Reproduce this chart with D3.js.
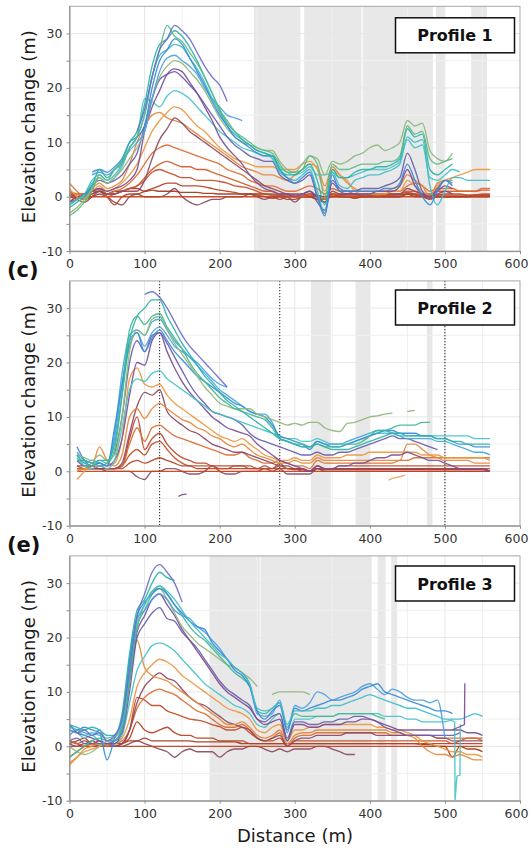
<!DOCTYPE html>
<html><head><meta charset="utf-8">
<script src="https://cdn.jsdelivr.net/npm/d3@7"></script>
<style>
html,body{margin:0;padding:0;background:#fff;}
svg{display:block;font-family:"DejaVu Sans",sans-serif;}
</style></head><body>
<svg id="chart" width="530" height="852"></svg>
<script>
const _ = null;
// ---------------- DATA ----------------
const distanceTicks = [0,100,200,300,400,500,600];
const elevationTicks = [-10,-5,0,5,10,15,20,25,30];
const profileNames = ["Profile 1","Profile 2","Profile 3"];
const panelLetters = [null,"(c)","(e)"];

// Profile 1
const P1_X = [0,10,20,30,40,50,60,70,80,90, 100,110,120,130,140,150,160,170,180,190, 200,210,220,230,240,250,260,270,280,290, 300,310,320,330,340,350,360,370,380,390, 400,410,420,430,440,450,460,470,480,490, 500,510,520,530,540,550,560];
const P1_01 = [_,_,_,_,_,_,_,_,_,12, 16,22,27,29,31.5,30.5,29,26.5,24,22, 20.5,17.5,_,_,_,_,_,_,_,_, _,_,_,_,_,_,_,_,_,_, _,_,_,_,_,_,_,_,_,_, _,_,_,_,_,_,_];
const P1_02 = [-3.5,-2.5,-1,1,4,3,5,6,9,11, 15,22,27,31.5,29.5,28.5,26.5,24.5,22,19, 16,14,12,11,10,9,8.5,8,6,4.5, 4.5,5,7.5,6,0,6,5,5,5.5,6, 6,6,6.5,6.5,7.5,13,11.5,12,7,6, 6.5,7,_,_,_,_,_];
const P1_03 = [-2,-1,0,2,5,3.5,5,6.5,10,12, 17,24,28,29,30.5,29.5,27.5,25,22,19, 16,13.5,12,10.5,9.5,8.5,8,7.5,5,4, 4,5,6,3,-1.5,5,3.5,3.5,4.5,5, 5,5.5,5.5,6,7,12.5,11,11.5,5,4, 5,6,_,_,_,_,_];
const P1_04 = [_,_,_,4.5,5,4.5,5.5,7,10,11, 13,20,25,27,29,28,25.5,23,20.5,17.5, 15,13,11,10,9,8,7.5,7.5,5,3.5, 2.5,3.5,4.5,0,-3.5,4,1,1,1,1, 1,1,1.5,1.5,2.5,6,3,0,-1.5,1, 3,2.5,_,_,_,_,_];
const P1_05 = [-1.5,-0.5,0.5,3,4,3,4,6,9,11, 15,22,26,27,28,27.5,25.5,23.5,21,18, 15.5,13,11.5,10.5,9.5,8.5,8,7,4.5,3.5, 3,4,5,1,-3,4.5,2,1.5,3,3.5, 4,4,4.5,5,6,11,10,10.5,2,-1.5, 1,3.5,3.5,3,3,3,3];
const P1_06 = [_,_,_,4,4.5,4,5,6.5,8.5,10, 12,18,23,25.5,26,25,24,22.5,20,18, 16.5,15,14.5,14,_,_,_,_,_,_, _,_,_,_,_,_,_,_,_,_, _,_,_,_,_,_,_,_,_,_, _,_,_,_,_,_,_];
const P1_07 = [-3,-2,-0.5,1.5,3.5,2.5,3.5,5,7,9, 12,18,22,24,25,24.5,23,21.5,19.5,17, 14.5,12.5,11,10,9.5,9,8.5,8.5,6.5,5, 4.5,6,7.5,7,4,6.5,6,6.5,7.5,8, 9,9.5,8.5,9,10,14,13,13.5,8.5,7, 6.5,8,_,_,_,_,_];
const P1_08 = [-1,-0.5,0.5,1,1.5,1,1.5,2,3,5, 12,16.5,19.5,22.5,23.5,23,21,19,16.5,14, 11,9,7.5,6,4,2.5,1.5,1,0.5,0.5, 0,0.5,1,-1,-2.5,2.5,1,0.5,0.5,0.5, 0.5,1,1,1,2,5,2,0.5,0,1, 2,1.5,_,_,_,_,_];
const P1_09 = [_,_,0,2,3,2.5,3,4,6,8, 13,18,21.5,22.5,23,22,20.5,19,17,15, 13,11,9.5,8.5,7.5,7,6.5,6.5,4,3, 2.5,3,4,0,-3,3,1.5,1,1,1.5, 1.5,1.5,2,2.5,3.5,8,5,1,0,1.5, 3,2,_,_,_,_,_];
const P1_10 = [-1.5,-0.5,0.5,2.5,3.5,2.5,3.5,5.5,9,11, 18,17.5,16.5,18.5,19.5,19,18,16.5,15,13.5, 12,11,10,9,8.5,8,7.5,7.5,5.5,4.5, 4,4.5,5.5,4,4,4.5,3.5,3.5,4,4.5, 5,5,5,5.5,6.5,10.5,9,9.5,3.5,3, 4,5,4.5,_,_,_,_];
const P1_11 = [1.5,0,-0.5,1,2,1,1.5,2.5,4,6, 9,12,14,15.5,16.5,16,14.5,13,12,10.5, 9,8,7,6.5,6,5.5,5.5,5.5,5,5, 5,6,6.5,5,1,5,4,3,1,0.5, 0.5,0.5,0.5,1,1,3,2,1,0,2, 3,3.5,4,4.5,5,5,5];
const P1_12 = [0.5,0,-0.5,0.5,1,0.5,0.5,1,1,1, 3,7,10.5,12.5,14.5,13.5,12,11,10,9, 8,7,6,5,4,3,2,1.5,1,0.5, 0.5,0.5,1,0,-1,1,0.5,0.5,0.5,0.5, 0.5,0.5,0.5,0.5,0.5,1.5,1,0.5,0,0.5, 1,0.5,_,_,_,_,_];
const P1_13 = [1,0.5,0,1.5,2.5,1.5,2,3,6,10, 13,15,15.5,14.5,14,13.5,12.5,11.5,10.5,9.5, 8.5,7.5,6.5,5.5,5,4.5,4,4,3.5,3, 4,5,6,5.5,2,5.5,4,2.5,1.5,1, 1,1,1,1.5,2,4,3,2,0,2.5, 3,3,_,_,_,_,_];
const P1_14 = [2.5,1,0,1,1.5,0.5,1,1.5,2.5,4, 6,8,9,9.5,9,8.5,8,7.5,7,6.5, 6,5,4.5,4,3,2.5,2,2,1.5,1, 1,1.5,2,1.5,0.5,1.5,1,1,0.5,0.5, 0.5,0.5,0.5,1,1,2,2.5,2,1,1.5, 1.5,1.5,1,1,1,1.5,1.5];
const P1_15 = [0,0.5,0,0.5,1,0,0.5,1,1.5,2, 3.5,5,6,6.5,6,5.5,5.5,5,5,4.5, 4,3.5,3,2.5,2,1.5,1,1,0.5,0.5, 0,0,0.5,0,-0.5,0.5,0.5,0.5,0.5,0.5, 0.5,0.5,0.5,0.5,0.5,1,1,0.5,0.5,1, 1,1,1,1,1,1.2,1.2];
const P1_16 = [1,0.5,0.5,1,1,0.5,0.5,1,1.5,2, 3,4.5,5,4.5,4,3.5,3.5,3,3,3, 2.8,2.5,2,1.8,1.5,1,0.5,0.5,0.3,0, 0,0,0.3,0,-0.5,0.3,0.3,0,0,0.3, 0.3,0,0.3,0.3,0.5,0.8,0.5,0.3,0,0.3, 0.5,0.5,0.5,0.3,0.3,0.5,0.5];
const P1_17 = [0,-0.5,-1,0,1,0,-1.5,0,0.5,0.5, 1,1.5,2,2.5,2.5,2,2,2,1.8,1.5, 1.2,1,0.8,0.5,0.5,0.3,0,-0.3,0,-0.5, -0.5,0,0,-0.5,-0.5,0,0,0,-0.3,0, 0,0,0,0,0,0.5,0.3,0,-0.3,0, 0,0,0,0,0.3,0.3,0.3];
const P1_18 = [-1,0,0.5,1,1.5,0.5,1,1,1.5,1.5, 1,1.2,1,1,1,0.8,0.8,0.8,0.6,0.6, 0.5,0.5,0.5,0.5,0.5,0.5,0.5,0.3,0.3,0.3, 0.3,0.3,0.5,0.3,0,0.5,0.3,0.3,0.3,0.3, 0.3,0.3,0.3,0.3,0.3,0.5,0.5,0.3,0.3,0.3, 0.3,0.3,0.3,0.3,0.3,0.3,0.3];
const P1_19 = [0,0,0,0,0,0,0,0,0,0, 0,0,0,0,0,0,0,0,0,0, 0,0,0,0,0,0,0,0,0,0, 0,0,0,0,0,0,0,0,0,0, 0,0,0,0,0,0,0,0,0,0, 0,0,0,0,0,0,0];
const P1_20 = [1,0,-0.5,0,0.5,0,-1,-1.5,0,0.5, 0,0,0,0.5,1.5,0,-1,-1.5,-1,-0.5, -0.5,0,0,0,0.5,0,-0.5,0,-0.5,0, -1,0,0,-0.5,-1,0.5,0,0,0,0, 0,0,0,0,0,0.5,0,0,-0.5,0, 0,0,0,0,0,0,0];
const P1_BANDS = [[245.5,307.5],[312.5,389],[390.5,484],[488,499],[535,556]];

// Profile 2
const P2_X = [10,20,30,40,50,60,70,80,90,100, 110,120,130,140,150,160,170,180,190,200, 210,220,230,240,250,260,270,280,290,300, 310,320,330,340,350,360,370,380,390,400, 410,420,430,440,450,460,470,480,490,500, 510,520,530,540,550,560];
const P2_01 = [_,_,_,_,_,_,_,_,_,32.5, 33,32,30,27.5,25,23,21.5,20,18.5,17, 15.5,_,_,_,_,_,_,_,_,_, _,_,_,_,_,_,_,_,_,_, _,_,_,_,_,_,_,_,_,_, _,_,_,_,_,_];
const P2_02 = [2,2,1.5,2,2,5,14,24,28.5,30, 31.5,31.5,28.5,26,23.5,21.5,19.5,17.5,16,14.5, 13,12,11,10,9,8,7,6,5.5,5, 4.5,4.5,5,4.5,4,4,4,4.5,5,5.5, 6,6.5,7,7,6.5,6.5,6.5,6.5,6,6, 5.5,5.5,5,5,5,5];
const P2_03 = [3,1.5,1,2,1.5,4,14,26,28.5,27, 28.5,29,26.5,24.5,22.5,20,18,16.5,15,13.5, 12.5,11.5,11,10.5,10,9.5,8,6,5.5,5, 5,4.5,5,4.5,4.5,4.5,5,5,5.5,6.5, 7.5,7.5,8,8.5,8.5,8.5,9,9,_,_, _,_,_,_,_,_];
const P2_04 = [3,2.5,2,3,2,3,10,22,26,25, 28,28.5,26,23.5,21.5,19.5,17.5,15.5,14,12.5, 12,11.5,11.5,11.5,10.5,10,9.5,9,8.5,8.8, 8.5,9,9,8,7.5,7.3,8.8,9,9.5,10, 10.2,10.5,10.7,_,11,11.2,_,_,_,_, _,_,_,_,_,_];
const P2_05 = [4.5,2,1,1.5,1,8,16,23,25.5,22, 24.5,26,24,22,20.5,19,17.5,16.5,15.5,14.5, 13.5,12.5,12,11,10.5,10,8.5,6.5,6,5.5, 5,4,5.5,5,4.5,4.5,5,5.5,6,6.5, 7,7.5,7.5,7,7,7,6.5,6.5,6,6, 5.5,5,5,4.5,4.5,4.5];
const P2_06 = [3,1.5,2,1.5,1,7,18,25,26,25, 27.5,28,26,24,22.5,21,19.5,18,16.5,15, 14,13,12,11,10.5,10.5,9,6,5.5,5, 4.5,4.5,5.5,5,5,5,5.5,6,6.5,7, 7.5,7.5,7,6.5,6,6,6,6,5.5,5.5, 5,4.5,4,3.5,3.5,3];
const P2_07 = [3.5,2,1.5,1,1.5,6,16,24,25.5,23, 25.5,26.5,25,23,22,21,20,18.5,17,16, 15.5,_,_,_,_,_,_,_,_,_, _,_,_,_,_,_,_,_,_,_, _,_,_,_,_,_,_,_,_,_, _,_,_,_,_,_];
const P2_08 = [2.5,1,0.5,1,0.5,2,8,15,17,16.5, 18,18.5,17,16,15,14,13,12,11,10.5, 10,9.5,9,8.5,8,7.5,7,6.5,6,6, 5.5,5.5,6,5.5,5,5,5,5.5,6,6.5, 7,7,7,6.5,6.5,6.5,6.5,6.5,6.5,6.5, 6.5,6.5,6.5,6,6,6];
const P2_09 = [2,1,1,1.5,1,2,6,14,20,19.5, 24,25.5,22,19,16.5,14.5,13,11.5,10,9, 8,7.5,7,6.5,5,4,3,2,1.5,1, 0.5,0,1,0.5,0.5,1,1,1.5,1.5,2, 2.5,2.5,3,3,3.5,3,2.5,2,2,1.5, 1,0.5,0.5,0.5,0.5,0];
const P2_10 = [_,_,_,_,_,3,10,20,24,22, 25,25.5,23.5,21,18.5,16,14,12.5,11,10.5, 10,9.5,8.5,7,6,5.5,5,4.5,4,3.5, 3,3,3.5,3,3,3.5,3.5,4,4.5,5, 5.5,6,6.5,6,6,5.5,5,4.5,4,_, _,_,_,_,_,_];
const P2_11 = [-1.5,0,1.5,1,1,1.5,6,17,19,16, 15.5,16,14,12.5,11.5,10.5,9.5,8.5,7.5,6.5, 6,5.5,6,5,4,3,2.5,2,2,2.5, 2,2,3,2.5,2.5,2.5,3,3,3,3.5, 3.5,3.5,3.5,3.5,3.5,3.5,3,3,3,2.5, 2.5,2.5,2.5,2.5,2.5,2];
const P2_12 = [0,0.5,1,4.5,2,1,3,10,11.5,9.7, 11.5,12.5,11.5,10.5,9.5,9,8,7.5,6.5,6, 5,4.5,5,4,3,2.5,2,1.5,1.5,2, 1.5,1.5,2.5,2,2,2,2,2,2,2, 2,2,2,2,5,5,4,3,2.5,2, 2,2,2,1.5,1.5,1.5];
const P2_13 = [1,1,0.5,0.5,0.5,0.5,1.5,7,12,14.5, 14,15,11,9.5,8.5,7.5,7,6,5,4.5, 4,3.5,3.5,3,2.5,2,1.5,1,1,0.5, 0.5,0,0.5,0.5,0.5,0.5,0.5,0.5,0.5,0.5, 0.5,0.5,0.5,0.5,0.5,0.5,0.5,0.5,0.5,0.5, 0.5,0.5,0.5,0.5,0.5,0];
const P2_14 = [0.5,0.5,0.5,1,0.5,0.5,1,5,8,5.5, 8,8.5,7.5,6.5,6,5.5,5,4.5,4,3.5, 3,3,3.5,2.5,2,1.5,1.5,2,1.5,1, 1,0.5,2,1.5,1.5,1.5,1.5,1.5,1.5,1.5, 1.5,1.5,1.5,2,2,2.5,2.5,2.5,2.5,2.5, 2.5,2.5,2.5,2.5,2.5,2.5];
const P2_15 = [0.5,0.5,0.5,0.5,0.5,0.5,1,6,10,4, 6,7,5,3.5,2.5,2,1.5,1.5,1,1, 1,1,1,1,0.5,1,0.5,1.5,0.5,0.5, 0,0,1,0.5,0.5,0.5,0.5,0.5,0.5,0.5, 0.5,0.5,0.5,0.5,0.5,0.5,0.5,0.5,0.5,0.5, 0.5,0.5,0.5,0.5,0.5,0.5];
const P2_16 = [1,0.5,1,0.5,0.5,0.5,1,3,4,3, 5,5.5,4,2.5,1.5,1,1,1,1,0.5, 0.5,1,1,0.5,0.5,0.5,0.5,1,0.5,0.5, 0.5,0,1,0.5,0.5,1,1,1,1,1, 1,1,1,1,1,1,1,1,1,1, 1,1,1,1,1,1];
const P2_17 = [0.5,0.5,0.5,0.5,0.5,0.5,0.5,1.5,2,1.5, 2,2.5,2,1.5,1,1,0.5,0.5,0.5,0.5, 0.5,0.5,0.5,0.5,0.5,0.5,0.5,0.5,0.5,0.3, 0.3,0,0.5,0.3,0.3,0.3,0.3,0.3,0.3,0.3, 0.3,0.3,0.3,0.3,0.3,0.3,0.3,0.3,0.3,0.3, 0.3,0.3,0.3,0.3,0.3,0];
const P2_18 = [0,0,0,0,0,0,0,0,0,0, 0,0,0,0,0,0,0,0,0,0, 0,0,0,0,0,0,0,0,0,0, 0,0,0,0,0,0,0,0,0,0, 0,0,0,0,0,0,0,0,0,0, 0,0,0,0,0,0];
const P2_19 = [0.5,0.5,0.5,0.5,0,0,0,0,-1,-1.5, 0,0,0.5,0.5,0,-0.5,-0.5,0,1,0, -0.5,-0.5,0,0,0,0.5,0,0.5,-0.5,-0.5, -0.5,-0.5,0.5,0,0,0,0,0,0,0, 0,0,0,0,0,0,0,0,0,0, 0,0,0,0,0,0];
const P2_F1_X = [145,150,156];
const P2_F1_Y = [-4.6,-4.3,-4.2];
const P2_F2_X = [425,432,440,447];
const P2_F2_Y = [-1.6,-1.2,-1,-0.7];
const P2_BANDS = [[321.5,348],[381,400],[476,483.5]];
const P2_MARKERS = [120,280,500];

// Profile 3
const P3_X = [0,10,20,30,40,50,60,70,80,90, 100,110,120,130,140,150,160,170,180,190, 200,210,220,230,240,250,260,270,280,290, 300,310,320,330,340,350,360,370,380,390, 400,410,420,430,440,450,460,470,480,490, 500,510,520,530,540,550];
const P3_01 = [3,2.5,3,2,2.5,1,2,5,14,24, 28,32,33.4,32,30,26.5,_,_,_,_, _,_,_,_,_,_,_,_,_,_, _,_,_,_,_,_,_,_,_,_, _,_,_,_,_,_,_,_,_,_, _,_,_,_,_,_];
const P3_02 = [4,3.5,3,3.5,3,2,2,6,17,25, 27,30,32,31,30.5,_,_,_,_,_, _,_,_,_,_,_,_,_,_,_, _,_,_,_,_,_,_,_,_,_, _,_,_,_,_,_,_,_,_,_, _,_,_,_,_,_];
const P3_03 = [3.5,3,2,2.5,2,1.5,2,4,14,23, 26,28.5,29.5,28.5,27,25,23,21.5,20,18.5, 17,16,14.5,13.5,11.5,7,6.5,7,8,4, 6.5,6.5,6.5,7,7,7.5,7.5,8,8.5,9, 9.5,9,8.5,8,7.5,7,7,6.5,6,5.5, 5,5,5,5.5,6,5.5];
const P3_04 = [4,3,3.5,3,2.5,-2.5,1.5,5,16,24, 26.5,28,29,28,26,24.5,23,22,21.5,19, 17.5,16,14,13,11,6.5,5,6.5,7.5,3, 7,6.5,7,7.5,8,8.5,8.5,9,9.5,10.5, 11,11.5,10,9.5,9,8.5,8,7.5,7,6.5, 6.5,6,_,_,_,_];
const P3_05 = [2,3,2.5,2,3,1,1,4,15,23.5, 25,27,28,27,25,24,23.5,22,21,19.5, 18,16,14.5,13.5,11.5,6,5.5,6,8.5,2.5, 7.5,7,8,10,9.5,8.5,9,9.5,10,11, 11.5,10.5,9.5,10.5,10,9,8.5,8.5,8,8.5, 1.5,_,_,_,_,_];
const P3_06 = [-2,-1,0,1,1.5,1,1,3,12,22, 25,28,29.5,28,26,24,22,20.5,19.5,18, 16.5,15,13.5,12.5,11,6.5,6,7,8,3.5, 6,5.5,5.5,5.5,5.5,5.5,6,6,6,6, 6,5.5,5,_,_,_,_,_,_,_, _,_,_,_,_,_];
const P3_07 = [0,-1,-1.5,-1,0,1,1.5,4,13,22, 26,28.5,29,27,24.5,22,20.5,19,18,17, 16,15,14.5,13.5,12.5,11,_,9.5,10,10, 10,10,9.5,_,_,_,_,_,_,_, _,_,_,_,_,_,_,_,_,_, _,_,_,_,_,_];
const P3_08 = [4,2.5,2,1.5,1,0.5,0.5,3,12,21, 24,27,28,26,24,21.5,19.5,17.5,15.5,13.5, 11.5,10,9,8,7,5,4,4.5,5,1, 4,4,3.5,3.5,4,4,4,4.5,4.5,5, 5,4.5,4,3.5,3,3,3,3,3,3, 3,3,3,2.5,2.5,2];
const P3_09 = [1,1.5,0.5,1,0.5,0.5,1,2.5,10,20, 22.5,24.5,25.5,23.5,23,21,19.5,18,16,14, 12,10.5,9.5,8.5,7.5,5,4.5,5.5,6,1.5, 4.5,4.5,4,4,4.5,4.5,5,5,5.5,5.5, 5,4.5,3.5,3,2.5,2,2,2,2,2, 2,2,2.5,_,_,_];
const P3_10 = [3,2.5,1.5,2,1,0.5,0.5,2,8,14, 16.5,18.5,19,18.5,17.5,16,14.5,13,11.5,10.5, 9.5,8.5,7.5,7,6,4,3.5,5,6,1, 5,5,5,5.5,5.5,5.5,6,6,6,6, 6,6,5.5,5.5,5.5,5,5,4.5,4.5,4.5, 4.5,_,_,_,_,_];
const P3_11 = [-3.5,-2,-1,-0.5,0,0.5,0.5,1.5,5,11, 13.5,15,16,15.5,14.5,13,12,11,10,9, 8,7,6.5,6,5,3,2.5,3.5,4,1, 3,3,3.5,3.5,4,4,4,4,4,4, 4,3.5,3.5,3,3,2.5,2,1,0.5,0, -0.5,-1,-1,-1.5,-1.5,-2];
const P3_12 = [-3,-2,-0.5,0,0.5,0.5,1,3,12,19.5, 14.5,13,12.5,12,11,10,9,8,7,6, 5,4,4,4.5,3.5,2,1.5,2,3,0.5, 2,2.5,2.5,3,3,3,3,3,3,3, 3,3,3,2.5,2.5,2,1.5,0,-1,-1.5, -1.5,-2,-1.5,-2,-2.5,-2.5];
const P3_13 = [0.5,0,0.5,0.5,0,0.5,0,0.5,3,8, 11,12.5,13.5,12.5,12,10.5,9,8,7.5,6.5, 5.5,4.5,4,3.5,3,1.5,1,1.5,2,0, 1,1.5,1.5,2,2,2,2,2.5,2.5,2.5, 2.5,2,2,2,2,2,2,2,2,1.5, 1.5,1,1,1,1,1];
const P3_14 = [1,0.5,0,0.5,0.5,0,0.5,1,3,7, 9,10,10.5,10,9.5,8.5,7.5,6.5,6,5, 4,3.5,3.5,4,3,1.5,1,1.5,2.5,0, 1.5,2,2,2.5,2.5,2.5,2.5,2.5,2.5,2.5, 2.5,2.5,2.5,2,2,2,2,2,2,1.5, 1.5,1.5,1.5,1.5,1.5,1];
const P3_15 = [-2,-1,0,0.5,0.5,0.5,0.5,0.5,3,9, 8.5,7.5,7.5,6.5,6,5.5,5,4.8,4.5,4, 3.6,3,3,3.5,2.5,1.5,1,1,1.5,0, 1,1,1,1,1,1,1,1,1,1, 1,1,1,1,1,1,1,1,1,1, 1,0.5,1,1.5,1.5,1.5];
const P3_16 = [1,0.5,1,0.5,0.5,0,0,0.5,1.5,4.5, 3,2.5,3,3.5,2.5,2,2,1.5,1.5,1.5, 1,1,1,1,0.5,0.5,0.5,0.5,0.5,0.5, 0.5,0.5,0.5,0.5,0.5,0.5,0.5,0.5,0.5,0.5, 0.5,0.5,0.5,0.5,0.5,0.5,0.5,0.5,0.5,0.5, 0.5,0.5,0.5,0.5,0.5,0.5];
const P3_17 = [0.5,1,1.5,0.5,1,0.5,0.5,0.5,1,1, 1.5,1,1,1,1,1,1,0.8,0.8,0.8, 0.8,0.8,0.8,0.5,0.5,0.5,0.5,0.5,0.5,0.5, 0.5,0.5,0.5,0.5,0.5,0.5,0.5,0.5,0.5,0.5, 0.5,0.5,0.5,0.5,0.5,0.5,0.5,0.3,0.3,0, 0,-2,0,-0.5,-0.5,-1];
const P3_18 = [0,0,0,0,0,0,0,0,0,0, 0,0,0,0,0,0,0,0,0,0, 0,0,0,0,0,0,0,0,0,0, 0,0,0,0,0,0,0,0,0,0, 0,0,0,0,0,0,0,0,0,0, 0,0,0,0,0,0];
const P3_19 = [1,0.5,0,0,0,0,0,0,0.5,1, 0.5,0,-0.5,-1,-2,-1,-0.5,-1,-1,-1, -2,-1,-0.5,-0.5,0,0,-0.5,-1,-0.5,-1, -0.5,-0.5,-0.5,0,0,-0.5,-1,-1.5,-1.5,_, _,_,_,_,_,_,_,_,_,_, _,_,_,_,_,_];
const P3_S1_X = [500,508,513,513.5,516,520,520.5];
const P3_S1_Y = [4.5,4.8,4.5,-10,-5.5,-5.3,4];
const P3_S2_X = [510,518,526,526.5];
const P3_S2_Y = [3,3.5,4,11.6];
const P3_BANDS = [[186.5,253.5],[254.5,402.5],[410.5,421],[428.5,436.5]];

// ---------------- STYLE ----------------
const C = {
  blueViolet:'#6d6fcb', green:'#5dba86', teal:'#2cb3a6', greenTeal:'#3fb892',
  blue:'#3a8bd6', cyan:'#3ebdc9', cyanBlue:'#3fa9dc', blueLight:'#4f9fe3',
  sage:'#8fb97c', purple:'#7a4e96', violet:'#6a5cae', tealLight:'#45c3c7',
  orange:'#eb983f', orange2:'#e5873a', orangeLight:'#efa862', brownPurple:'#8c4865',
  orangeRed:'#dc6b30', redOrange:'#d25a29', redBrown:'#b9452c', red:'#c64b25',
  red2:'#b6401f', darkRed:'#a5361c', base:'#c93f1c', purpleBrown:'#8a4a5c'
};

const panels = [
  { top: 6.3, boxTop: 17.8, xs: P1_X,
    rows: [P1_01,P1_02,P1_03,P1_04,P1_05,P1_06,P1_07,P1_08,P1_09,P1_10,P1_11,P1_12,P1_13,P1_14,P1_15,P1_16,P1_17,P1_18,P1_19,P1_20],
    colors: [C.blueViolet,C.green,C.teal,C.blue,C.cyan,C.blueLight,C.sage,C.purple,C.violet,C.tealLight,C.orange,C.brownPurple,C.orange2,C.orangeRed,C.redOrange,C.red,C.red2,C.darkRed,C.base,C.purpleBrown],
    extras: [], bands: P1_BANDS, markers: [] },
  { top: 280.9, boxTop: 290, xs: P2_X,
    rows: [P2_01,P2_02,P2_03,P2_04,P2_05,P2_06,P2_07,P2_08,P2_09,P2_10,P2_11,P2_12,P2_13,P2_14,P2_15,P2_16,P2_17,P2_18,P2_19],
    colors: [C.blueViolet,C.teal,C.greenTeal,C.sage,C.blue,C.cyanBlue,C.blueLight,C.tealLight,C.purple,C.violet,C.orange,C.orange2,C.brownPurple,C.orangeRed,C.redBrown,C.red,C.red2,C.base,C.purpleBrown],
    extras: [[P2_F1_X,P2_F1_Y,C.purple],[P2_F2_X,P2_F2_Y,C.orangeLight]], bands: P2_BANDS, markers: P2_MARKERS },
  { top: 555.9, boxTop: 566, xs: P3_X,
    rows: [P3_01,P3_02,P3_03,P3_04,P3_05,P3_06,P3_07,P3_08,P3_09,P3_10,P3_11,P3_12,P3_13,P3_14,P3_15,P3_16,P3_17,P3_18,P3_19],
    colors: [C.blueViolet,C.teal,C.cyan,C.blue,C.blueLight,C.greenTeal,C.sage,C.purple,C.violet,C.tealLight,C.orange,C.orange2,C.brownPurple,C.orangeRed,C.red,C.red2,C.darkRed,C.base,C.purpleBrown],
    extras: [[P3_S1_X,P3_S1_Y,C.tealLight],[P3_S2_X,P3_S2_Y,C.purple]], bands: P3_BANDS, markers: [] }
];

// ---------------- DRAW ----------------
const svg = d3.select('#chart');
const L = 69.5, R = 520, H = 244.8;
const x = d3.scaleLinear().domain([0,600]).range([L,R]);

panels.forEach((p, pi) => {
  const y = d3.scaleLinear().domain([-10,35]).range([p.top + H, p.top]);
  const g = svg.append('g');
  const clipId = 'clip' + pi;
  svg.append('clipPath').attr('id', clipId).append('rect')
    .attr('x', L).attr('y', p.top).attr('width', R - L).attr('height', H);

  // bands
  g.selectAll('rect.band').data(p.bands).join('rect').attr('class','band')
    .attr('x', d => x(d[0])).attr('width', d => x(d[1]) - x(d[0]))
    .attr('y', p.top).attr('height', H).attr('fill', '#e8e8e8');

  // grid
  const vgrid = d3.range(50, 600, 50);
  g.selectAll('line.vg').data(vgrid).join('line').attr('class','vg')
    .attr('x1', d => x(d)).attr('x2', d => x(d)).attr('y1', p.top).attr('y2', p.top + H)
    .attr('stroke', d => d % 100 === 0 ? '#e6e6e6' : '#f0f0f0').attr('stroke-width', 1);
  const hgrid = elevationTicks.filter(d => d > -10);
  g.selectAll('line.hg').data(hgrid).join('line').attr('class','hg')
    .attr('x1', L).attr('x2', R).attr('y1', d => y(d)).attr('y2', d => y(d))
    .attr('stroke', d => d % 10 === 0 ? '#e6e6e6' : '#f0f0f0').attr('stroke-width', 1);

  // markers (dotted)
  g.selectAll('line.mk').data(p.markers).join('line').attr('class','mk')
    .attr('x1', d => x(d)).attr('x2', d => x(d)).attr('y1', p.top).attr('y2', p.top + H)
    .attr('stroke', '#333').attr('stroke-width', 1.1).attr('stroke-dasharray', '1.3,1.7');

  // lines
  const lg = g.append('g').attr('clip-path', `url(#${clipId})`);
  const line = d3.line().defined(d => d[1] != null)
    .x(d => x(d[0])).y(d => y(d[1])).curve(d3.curveMonotoneX);
  const lineLin = d3.line().x(d => x(d[0])).y(d => y(d[1]));
  const order = d3.range(p.rows.length).reverse();
  order.forEach(i => {
    const pts = p.xs.map((xv, k) => [xv, p.rows[i][k] === undefined ? null : p.rows[i][k]]);
    lg.append('path').attr('d', line(pts)).attr('fill','none')
      .attr('stroke', p.colors[i]).attr('stroke-width', 1.35).attr('stroke-opacity', 0.92)
      .attr('stroke-linejoin','round');
  });
  p.extras.forEach(e => {
    const pts = e[0].map((xv, k) => [xv, e[1][k]]);
    lg.append('path').attr('d', lineLin(pts)).attr('fill','none')
      .attr('stroke', e[2]).attr('stroke-width', 1.35).attr('stroke-opacity', 0.92);
  });

  // frame
  g.append('rect').attr('x', L).attr('y', p.top).attr('width', R - L).attr('height', H)
    .attr('fill','none').attr('stroke','#a8a8a8').attr('stroke-width',1);

  // axes
  const ax = g.append('g').attr('transform', `translate(0,${p.top + H})`)
    .call(d3.axisBottom(x).tickValues(distanceTicks).tickSize(3).tickSizeOuter(0).tickPadding(5));
  ax.selectAll('.tick text').filter(d => d === 600).attr('dx', -4);
  const ay = g.append('g').attr('transform', `translate(${L},0)`)
    .call(d3.axisLeft(y).tickValues(elevationTicks).tickSize(3).tickSizeOuter(0).tickPadding(4)
      .tickFormat(d => d % 10 === 0 ? d : ''));
  [ax, ay].forEach(a => {
    a.select('.domain').attr('stroke', '#8c8c8c');
    a.selectAll('.tick line').attr('stroke', '#8c8c8c');
    a.selectAll('.tick text').attr('fill', '#333').style('font-size', '12.5px')
      .style('font-family', '"DejaVu Sans", sans-serif');
  });

  // y title
  svg.append('text')
    .attr('transform', `translate(35,${p.top + H / 2 - 2}) rotate(-90)`)
    .attr('text-anchor','middle').attr('fill','#1a1a1a')
    .style('font-size','18px').text('Elevation change (m)');

  // profile box
  const bx = 395.5, bw = 119, bh = 35;
  svg.append('rect').attr('x', bx).attr('y', p.boxTop).attr('width', bw).attr('height', bh)
    .attr('fill','#fff').attr('stroke','#111').attr('stroke-width',1.5);
  svg.append('text').attr('x', bx + bw / 2).attr('y', p.boxTop + bh / 2 + 6)
    .attr('text-anchor','middle').attr('fill','#111')
    .style('font-size','16px').style('font-weight','bold').text(profileNames[pi]);

  // panel letter
  if (panelLetters[pi]) {
    svg.append('text').attr('x', 7).attr('y', p.top - 4)
      .attr('fill','#111').style('font-size','21px').style('font-weight','bold')
      .text(panelLetters[pi]);
  }
});

svg.append('text').attr('x', 295).attr('y', 842).attr('text-anchor','middle')
  .attr('fill','#1a1a1a').style('font-size','18px').text('Distance (m)');
</script>
</body></html>
